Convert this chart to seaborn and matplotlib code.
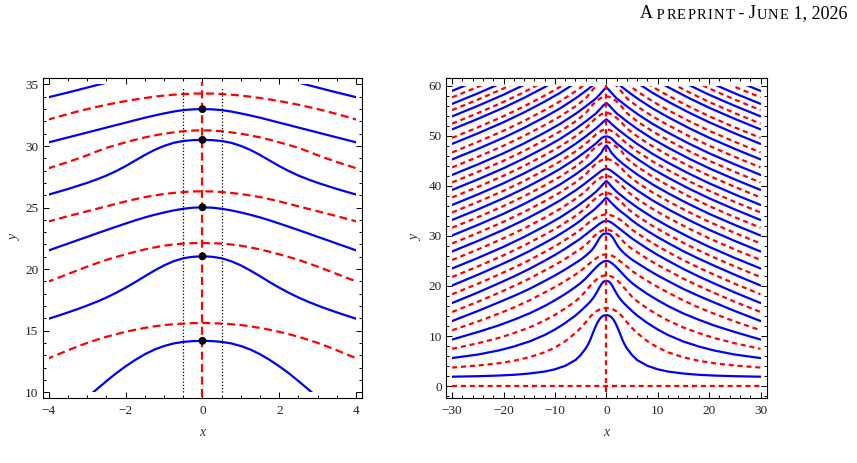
import numpy as np
import pandas as pd
import matplotlib
matplotlib.use("Agg")
import matplotlib.pyplot as plt
from matplotlib.patches import Rectangle
from matplotlib.ticker import MultipleLocator
import seaborn as sns

# every curve is symmetric about x = 0, so only the half x >= 0 is stored
x_fine = [0, 0.25, 0.5, 0.75, 1, 1.25, 1.5, 1.75, 2, 2.25, 2.5, 2.75, 3, 3.25, 3.5, 3.75, 4,
          5, 6, 8, 10, 12, 15, 18, 21, 25, 30]
x_coarse = [0, 0.5, 1, 2, 3, 4, 6, 9, 12, 16, 20, 25, 30]

# lower curves (also seen in the left zoom), on x_fine
b1 = [14.17, 14.15, 14.085, 13.96, 13.75, 13.46, 13.08, 12.62, 12.1, 11.53, 10.9, 10.24, 9.58, 8.97, 8.43, 7.96, 7.55,
      6.2, 5.2, 4.05, 3.35, 2.9, 2.5, 2.25, 2.1, 1.97, 1.87]
b2 = [21.04, 21.0, 20.88, 20.64, 20.3, 19.88, 19.42, 18.94, 18.49, 18.07, 17.69, 17.35, 17.04, 16.75, 16.48, 16.22, 15.97,
      15.0, 14.1, 12.6, 11.3, 10.2, 8.9, 7.9, 7.1, 6.3, 5.6]
b3 = [25.02, 24.99, 24.9, 24.77, 24.6, 24.41, 24.2, 23.96, 23.7, 23.44, 23.17, 22.9, 22.62, 22.35, 22.07, 21.8, 21.52,
      20.6, 19.8, 18.4, 17.15, 16.0, 14.5, 13.25, 12.1, 10.8, 9.3]
b4 = [30.5, 30.48, 30.41, 30.26, 30.01, 29.68, 29.27, 28.82, 28.37, 27.96, 27.6, 27.29, 27.01, 26.76, 26.51, 26.28, 26.06,
      25.25, 24.6, 23.3, 22.1, 21.0, 19.4, 18.0, 16.7, 15.0, 13.0]
b5 = [33.0, 32.98, 32.92, 32.8, 32.65, 32.48, 32.3, 32.1, 31.9, 31.7, 31.5, 31.3, 31.1, 30.9, 30.7, 30.5, 30.3,
      29.5, 28.8, 27.45, 26.2, 25.05, 23.4, 21.9, 20.5, 18.7, 16.6]
b6 = [37.6, 37.45, 37.15, 36.87, 36.6, 36.35, 36.1, 35.85, 35.6, 35.37, 35.15, 34.95, 34.75, 34.55, 34.35, 34.16, 33.97,
      33.1, 32.35, 31.0, 29.75, 28.6, 26.95, 25.45, 24.05, 22.25, 20.1]

r1 = [15.62, 15.61, 15.57, 15.52, 15.45, 15.35, 15.22, 15.07, 14.9, 14.71, 14.5, 14.26, 14.0, 13.71, 13.4, 13.08, 12.76,
      11.6, 10.6, 8.95, 7.7, 6.75, 5.75, 5.05, 4.55, 4.1, 3.7]
r2 = [22.12, 22.11, 22.07, 22.0, 21.9, 21.76, 21.6, 21.41, 21.2, 20.98, 20.75, 20.48, 20.2, 19.9, 19.6, 19.3, 19.0,
      17.85, 16.95, 15.5, 14.23, 13.1, 11.7, 10.58, 9.6, 8.55, 7.45]
r3 = [26.32, 26.31, 26.26, 26.19, 26.1, 25.98, 25.85, 25.68, 25.5, 25.3, 25.1, 24.9, 24.7, 24.5, 24.3, 24.09, 23.88,
      23.0, 22.3, 21.0, 19.8, 18.7, 17.1, 15.7, 14.45, 12.9, 11.15]
r4 = [31.28, 31.26, 31.2, 31.11, 31.0, 30.86, 30.7, 30.51, 30.3, 30.08, 29.85, 29.56, 29.25, 28.97, 28.7, 28.45, 28.2,
      27.4, 26.75, 25.4, 24.2, 23.1, 21.45, 20.0, 18.6, 16.85, 14.8]
r5 = [34.27, 34.26, 34.22, 34.17, 34.1, 34.01, 33.9, 33.78, 33.65, 33.51, 33.35, 33.18, 33.0, 32.81, 32.6, 32.38, 32.16,
      31.25, 30.55, 29.2, 27.95, 26.8, 25.15, 23.65, 22.25, 20.45, 18.35]

# upper curves, on x_coarse
b7 = [41.0, 40.5, 39.9, 38.85, 38.0, 37.2, 35.7, 33.7, 31.95, 29.8, 27.83, 25.6, 23.5]
b8 = [43.4, 43.3, 43.0, 42.2, 41.4, 40.6, 39.1, 37.1, 35.35, 33.2, 31.23, 29.0, 26.9]
b9 = [48.1, 47.5, 46.6, 45.5, 44.6, 43.8, 42.3, 40.3, 38.55, 36.4, 34.43, 32.2, 30.1]
b10 = [49.9, 49.8, 49.5, 48.5, 47.7, 46.9, 45.4, 43.4, 41.65, 39.5, 37.53, 35.3, 33.2]
b11 = [53.3, 52.9, 52.4, 51.5, 50.7, 49.9, 48.4, 46.4, 44.65, 42.5, 40.53, 38.3, 36.2]
b12 = [56.6, 56.15, 55.6, 54.5, 53.7, 52.9, 51.4, 49.4, 47.65, 45.5, 43.53, 41.3, 39.2]
b13 = [59.7, 59.2, 58.6, 57.5, 56.7, 55.9, 54.4, 52.4, 50.65, 48.5, 46.53, 44.3, 42.2]
b14 = [62.6, 62.1, 61.5, 60.6, 59.8, 59.0, 57.5, 55.5, 53.75, 51.6, 49.63, 47.4, 45.3]
b15 = [65.5, 65.0, 64.5, 63.7, 62.9, 62.1, 60.6, 58.6, 56.85, 54.7, 52.73, 50.5, 48.4]
b16 = [68.2, 67.8, 67.4, 66.6, 65.8, 65.0, 63.5, 61.5, 59.75, 57.6, 55.63, 53.4, 51.3]
b17 = [70.8, 70.4, 70.0, 69.2, 68.4, 67.6, 66.1, 64.1, 62.35, 60.2, 58.23, 56.0, 53.9]
b18 = [73.3, 72.9, 72.5, 71.7, 70.9, 70.1, 68.6, 66.6, 64.85, 62.7, 60.73, 58.5, 56.4]
b19 = [75.9, 75.5, 75.1, 74.3, 73.5, 72.7, 71.2, 69.2, 67.45, 65.3, 63.33, 61.1, 59.0]

r6 = [38.6, 38.52, 38.3, 37.6, 36.7, 35.55, 34.0, 32.0, 30.25, 28.1, 26.13, 23.9, 21.8]
r7 = [42.0, 41.92, 41.7, 41.0, 40.1, 38.95, 37.4, 35.4, 33.65, 31.5, 29.53, 27.3, 25.2]
r8 = [45.4, 45.32, 45.1, 44.4, 43.5, 42.3, 40.7, 38.7, 36.95, 34.8, 32.83, 30.6, 28.5]
r9 = [48.8, 48.72, 48.5, 47.8, 46.9, 45.45, 43.85, 41.85, 40.1, 37.95, 35.98, 33.75, 31.65]
r10 = [51.3, 51.22, 51.0, 50.3, 49.35, 48.45, 46.9, 44.9, 43.15, 41.0, 39.03, 36.8, 34.7]
r11 = [54.6, 54.52, 54.3, 53.6, 52.6, 51.5, 49.9, 47.9, 46.15, 44.0, 42.03, 39.8, 37.7]
r12 = [57.9, 57.82, 57.6, 56.9, 55.85, 54.55, 52.9, 50.9, 49.15, 47.0, 45.03, 42.8, 40.7]
r13 = [61.0, 60.92, 60.7, 60.0, 58.8, 57.5, 55.9, 53.9, 52.15, 50.0, 48.03, 45.8, 43.7]
r14 = [63.9, 63.82, 63.6, 62.9, 61.8, 60.45, 58.9, 56.9, 55.15, 53.0, 51.03, 48.8, 46.7]
r15 = [66.8, 66.72, 66.5, 65.8, 64.7, 63.35, 61.8, 59.8, 58.05, 55.9, 53.93, 51.7, 49.6]
r16 = [69.6, 69.52, 69.3, 68.6, 67.5, 66.2, 64.65, 62.65, 60.9, 58.75, 56.78, 54.55, 52.45]
r17 = [72.3, 72.22, 72.0, 71.3, 70.2, 68.9, 67.35, 65.35, 63.6, 61.45, 59.48, 57.25, 55.15]
r18 = [74.8, 74.72, 74.5, 73.8, 72.7, 71.45, 69.9, 67.9, 66.15, 64.0, 62.03, 59.8, 57.7]

# the flat dashed line at y = 0
r0_x = [0, 30]
r0 = [0, 0]

blue_curves = [(x_fine, c) for c in (b1, b2, b3, b4, b5, b6)] + \
              [(x_coarse, c) for c in (b7, b8, b9, b10, b11, b12, b13, b14, b15, b16, b17, b18, b19)]
red_curves = [(r0_x, r0)] + [(x_fine, c) for c in (r1, r2, r3, r4, r5)] + \
             [(x_coarse, c) for c in (r6, r7, r8, r9, r10, r11, r12, r13, r14, r15, r16, r17, r18)]

dot_y = [b1[0], b2[0], b3[0], b4[0], b5[0]]


def mirror(xs, ys):
    xs = np.asarray(xs, float)
    ys = np.asarray(ys, float)
    return np.concatenate([-xs[:0:-1], xs]), np.concatenate([ys[:0:-1], ys])


def to_frame(curves):
    parts = []
    for i, (xs, ys) in enumerate(curves):
        fx, fy = mirror(xs, ys)
        parts.append(pd.DataFrame({"x": fx, "y": fy, "curve": i}))
    return pd.concat(parts, ignore_index=True)


df_blue = to_frame(blue_curves)
df_red = to_frame(red_curves)

sns.set_theme(style="ticks")
plt.rcParams["font.family"] = ["Liberation Serif", "DejaVu Serif"]
plt.rcParams["axes.edgecolor"] = "black"
plt.rcParams["axes.linewidth"] = 0.8

fig = plt.figure(figsize=(8.57, 4.63), dpi=100)
ax_l = fig.add_axes([0.0498, 0.1397, 0.3729, 0.6911])
ax_r = fig.add_axes([0.5204, 0.1397, 0.3742, 0.6911])

LW = 1.6


def draw_panel(ax, clip_box, red_dash, vline):
    sns.lineplot(data=df_blue, x="x", y="y", units="curve", estimator=None, sort=False,
                 color="blue", lw=LW, ax=ax)
    sns.lineplot(data=df_red, x="x", y="y", units="curve", estimator=None, sort=False,
                 color="red", lw=LW, linestyle=(0, red_dash), ax=ax)
    rect = Rectangle(clip_box[0], clip_box[1], clip_box[2], transform=ax.transData)
    for line in ax.lines:
        line.set_clip_path(rect)
    ax.plot([0, 0], vline, color="red", lw=LW, linestyle=(0, red_dash))


# left: zoom near the origin
draw_panel(ax_l, ((-4, 10), 8, 25), (3.6, 2.0), [9.6, 35.2])
for xv in (-0.5, 0.5):
    ax_l.plot([xv, xv], [10, 34.75], color="black", lw=0.9, linestyle=(0, (1, 1.6)))
sns.scatterplot(x=[0] * len(dot_y), y=dot_y, color="black", s=32, edgecolor="none",
                zorder=5, ax=ax_l)
ax_l.set_xlim(-4.16, 4.16)
ax_l.set_ylim(9.5, 35.5)
ax_l.xaxis.set_major_locator(MultipleLocator(2))
ax_l.xaxis.set_minor_locator(MultipleLocator(0.5))
ax_l.yaxis.set_major_locator(MultipleLocator(5))
ax_l.yaxis.set_minor_locator(MultipleLocator(1))

# right: full picture
draw_panel(ax_r, ((-30, -0.5), 60, 60.5), (2.3, 1.7), [-1.1, 60.2])
ax_r.set_xlim(-31.2, 31.2)
ax_r.set_ylim(-2.45, 61.5)
ax_r.xaxis.set_major_locator(MultipleLocator(10))
ax_r.xaxis.set_minor_locator(MultipleLocator(2))
ax_r.yaxis.set_major_locator(MultipleLocator(10))
ax_r.yaxis.set_minor_locator(MultipleLocator(2))

for ax, ylab_x in ((ax_l, -0.087), (ax_r, -0.094)):
    ax.tick_params(which="both", direction="in", top=True, right=True, width=0.7,
                   labelsize=9.5, labelcolor="#222222", color="black")
    ax.tick_params(which="major", length=4)
    ax.tick_params(which="minor", length=2)
    ax.tick_params(axis="x", pad=4.5)
    ax.tick_params(axis="y", pad=3)
    ax.set_xlabel("x", fontstyle="italic", fontsize=10, color="#333333", va="center")
    ax.set_ylabel("y", fontstyle="italic", fontsize=10, color="#333333", va="center")
    ax.xaxis.set_label_coords(0.5, -0.108)
    ax.yaxis.set_label_coords(ylab_x, 0.5)

# running header in small caps, built right to left
BIG, SMALL, TRACK = 13, 10.5, 0.9
pieces = [("A", BIG), (" P", SMALL), ("R", SMALL), ("E", SMALL), ("P", SMALL), ("R", SMALL),
          ("I", SMALL), ("N", SMALL), ("T", SMALL), (" - J", BIG), ("U", SMALL), ("N", SMALL),
          ("E", SMALL), (" 1, 2026", BIG)]
prev = fig.text(0.9887, 0.9605, pieces[-1][0], ha="right", va="baseline",
                fontsize=pieces[-1][1], color="black")
prev_size = pieces[-1][1]
for txt, size in reversed(pieces[:-1]):
    off = 0.216 * (prev_size - size)
    gap = TRACK if (size == SMALL and prev_size == SMALL) else 0
    prev = ax_l.annotate(txt, xy=(0, 0), xycoords=prev, xytext=(-gap, off),
                         textcoords="offset points", ha="right", va="bottom",
                         fontsize=size, color="black", annotation_clip=False)
    prev_size = size

fig.savefig("out.png", dpi=100)
